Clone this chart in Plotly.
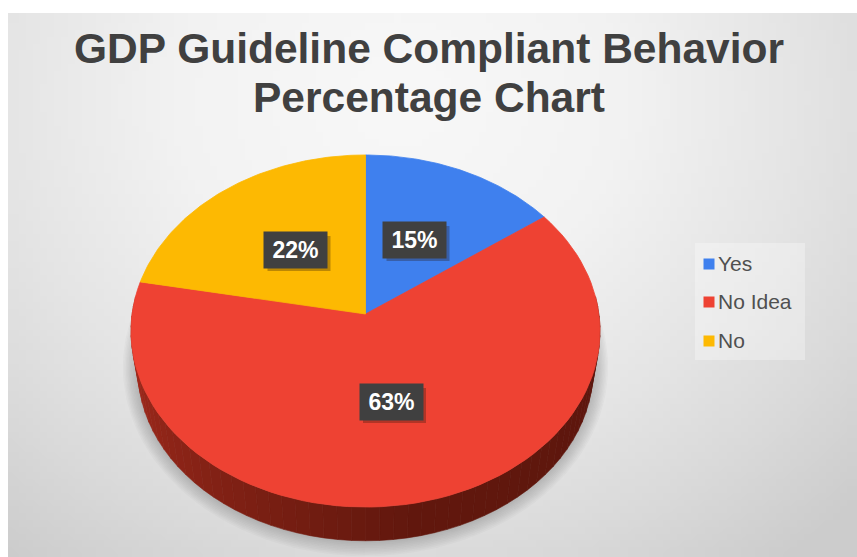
import numpy as np
import plotly.graph_objects as go

# --- data ---
categories = ["Yes", "No Idea", "No"]
values = [15, 63, 22]
colors = ["#3F80EE", "#EE4233", "#FDB902"]
title_lines = ["GDP Guideline Compliant Behavior", "Percentage Chart"]

W, H = 857, 557
CX, CY = 365.5, 314      # pie apex on the page
RX, RY, K = 233.4, 174.4, 0.0966   # perspective projection of the disc
EY = 331                 # centre of the projected ellipse
LABEL_POS = [(414.5, 240), (391, 402), (295.5, 250)]


def project(theta):
    """Clockwise angle from 12 o'clock -> page pixels, in tilted perspective."""
    u, v = np.sin(theta), np.cos(theta)
    d = 1 + K * v
    return CX + RX * u / d, CY - RY * v / d


def rim_low(x, y):
    return CX + 0.97 * (x - CX), EY + 0.97 * (y - EY) + 39


fig = go.Figure()

# background: light radial vignette (heatmap cells are centred on x/y)
nx, ny = 120, 80
dx, dy = (W - 8) / nx, (H - 13) / ny
xs = 8 + dx * (np.arange(nx) + 0.5)
ys = 13 + dy * (np.arange(ny) + 0.5)
gx, gy = np.meshgrid(xs, ys)
z = np.hypot((gx - 400) / 560, (gy - 100) / 500)
fig.add_trace(go.Heatmap(
    x=xs, y=ys, z=z, zsmooth="fast", showscale=False, hoverinfo="skip",
    zmin=0, zmax=1.15,
    colorscale=[[0, "#F8F8F8"], [0.35, "#F2F2F2"], [0.63, "#E4E4E4"], [0.8, "#DADADA"], [1, "#CCCCCC"]],
))

# soft shadow below the pie
circle = np.linspace(0, 2 * np.pi, 181)
px, py = project(circle)
for gx_s, gy_s in zip(np.linspace(1.05, 0.97, 14), np.linspace(1.09, 0.97, 14)):
    sx = CX + gx_s * 0.985 * (px - CX)
    sy = EY + 36 + gy_s * 0.985 * (py - EY)
    fig.add_trace(go.Scatter(
        x=sx, y=sy, mode="lines", fill="toself", line=dict(width=0),
        fillcolor="rgba(90,90,90,0.04)", hoverinfo="skip", showlegend=False))

# rim of the front of the disc
edges = np.cumsum([0] + values) / sum(values) * 2 * np.pi
n = 60
rim_angles = np.linspace(np.pi / 2 - 0.1, 3 * np.pi / 2 + 0.1, n + 1)  # right -> left
rim_stops = [(0, (92, 22, 13)), (0.45, (98, 24, 14)), (0.65, (125, 32, 20)), (1, (170, 44, 30))]
fr = [s[0] for s in rim_stops]
for i in range(n):
    seg = np.linspace(rim_angles[i], rim_angles[i + 1], 4)
    tx, ty = project(seg)
    bx, by = rim_low(tx, ty)
    t = i / (n - 1)
    rgb = [int(np.interp(t, fr, [s[1][c] for s in rim_stops])) for c in range(3)]
    col = f"rgb({rgb[0]},{rgb[1]},{rgb[2]})"
    fig.add_trace(go.Scatter(
        x=np.r_[tx, bx[::-1], tx[0]], y=np.r_[ty, by[::-1], ty[0]],
        mode="lines", fill="toself", line=dict(width=0.6, color=col),
        fillcolor=col, hoverinfo="skip", showlegend=False))

# top face slices, built from the values
for i, (cat, col) in enumerate(zip(categories, colors)):
    seg = np.linspace(edges[i], edges[i + 1], 90)
    ax, ay = project(seg)
    fig.add_trace(go.Scatter(
        x=np.r_[CX, ax, CX], y=np.r_[CY, ay, CY], mode="lines", fill="toself",
        line=dict(width=0.8, color=col), fillcolor=col, name=cat,
        text=f"{cat}: {values[i]}%", hoverinfo="text", showlegend=False))

# legend panel with swatches and names
LEG_X, LEG_Y = 709, [264, 302, 341]
fig.add_trace(go.Scatter(
    x=[695, 805, 805, 695, 695], y=[243, 243, 360, 360, 243], mode="lines",
    fill="toself", line=dict(width=0), fillcolor="rgba(255,255,255,0.30)",
    hoverinfo="skip", showlegend=False))
fig.add_trace(go.Scatter(
    x=[LEG_X] * 3, y=LEG_Y, mode="markers", hoverinfo="skip", showlegend=False,
    marker=dict(symbol="square", size=11, color=colors),
))
fig.add_trace(go.Scatter(
    x=[LEG_X + 9] * 3, y=[v + 2 for v in LEG_Y], mode="text", text=categories,
    textposition="middle right", hoverinfo="skip", showlegend=False,
    textfont=dict(family="Liberation Sans", size=21, color="#505050"),
))

# data labels
for (lx, ly), v in zip(LABEL_POS, values):
    fig.add_shape(type="rect", x0=lx - 28, x1=lx + 35, y0=ly - 14, y1=ly + 21,
                  line_width=0, fillcolor="rgba(40,20,10,0.30)", layer="above")
    fig.add_annotation(
        x=lx, y=ly, text=f"<b>{v}%</b>", showarrow=False, width=61, height=34,
        bgcolor="#404040", xanchor="center", yanchor="middle",
        font=dict(family="Liberation Sans", size=23, color="#FFFFFF"))

fig.update_layout(
    width=W, height=H, margin=dict(l=0, r=0, t=0, b=0),
    paper_bgcolor="#FFFFFF", plot_bgcolor="#FFFFFF", showlegend=False,
    xaxis=dict(range=[0, W], visible=False, fixedrange=True),
    yaxis=dict(range=[H, 0], visible=False, fixedrange=True),
    annotations=list(fig.layout.annotations) + [
        dict(x=429, y=48, text="<b>" + title_lines[0] + "</b>", showarrow=False,
             font=dict(family="Liberation Sans", size=42.5, color="#404040")),
        dict(x=429, y=97, text="<b>" + title_lines[1] + "</b>", showarrow=False,
             font=dict(family="Liberation Sans", size=42.5, color="#404040")),
    ],
)
fig.write_html("out.html", config={"displayModeBar": False},
               post_script="document.body.style.margin='0';document.body.style.overflow='hidden';")
